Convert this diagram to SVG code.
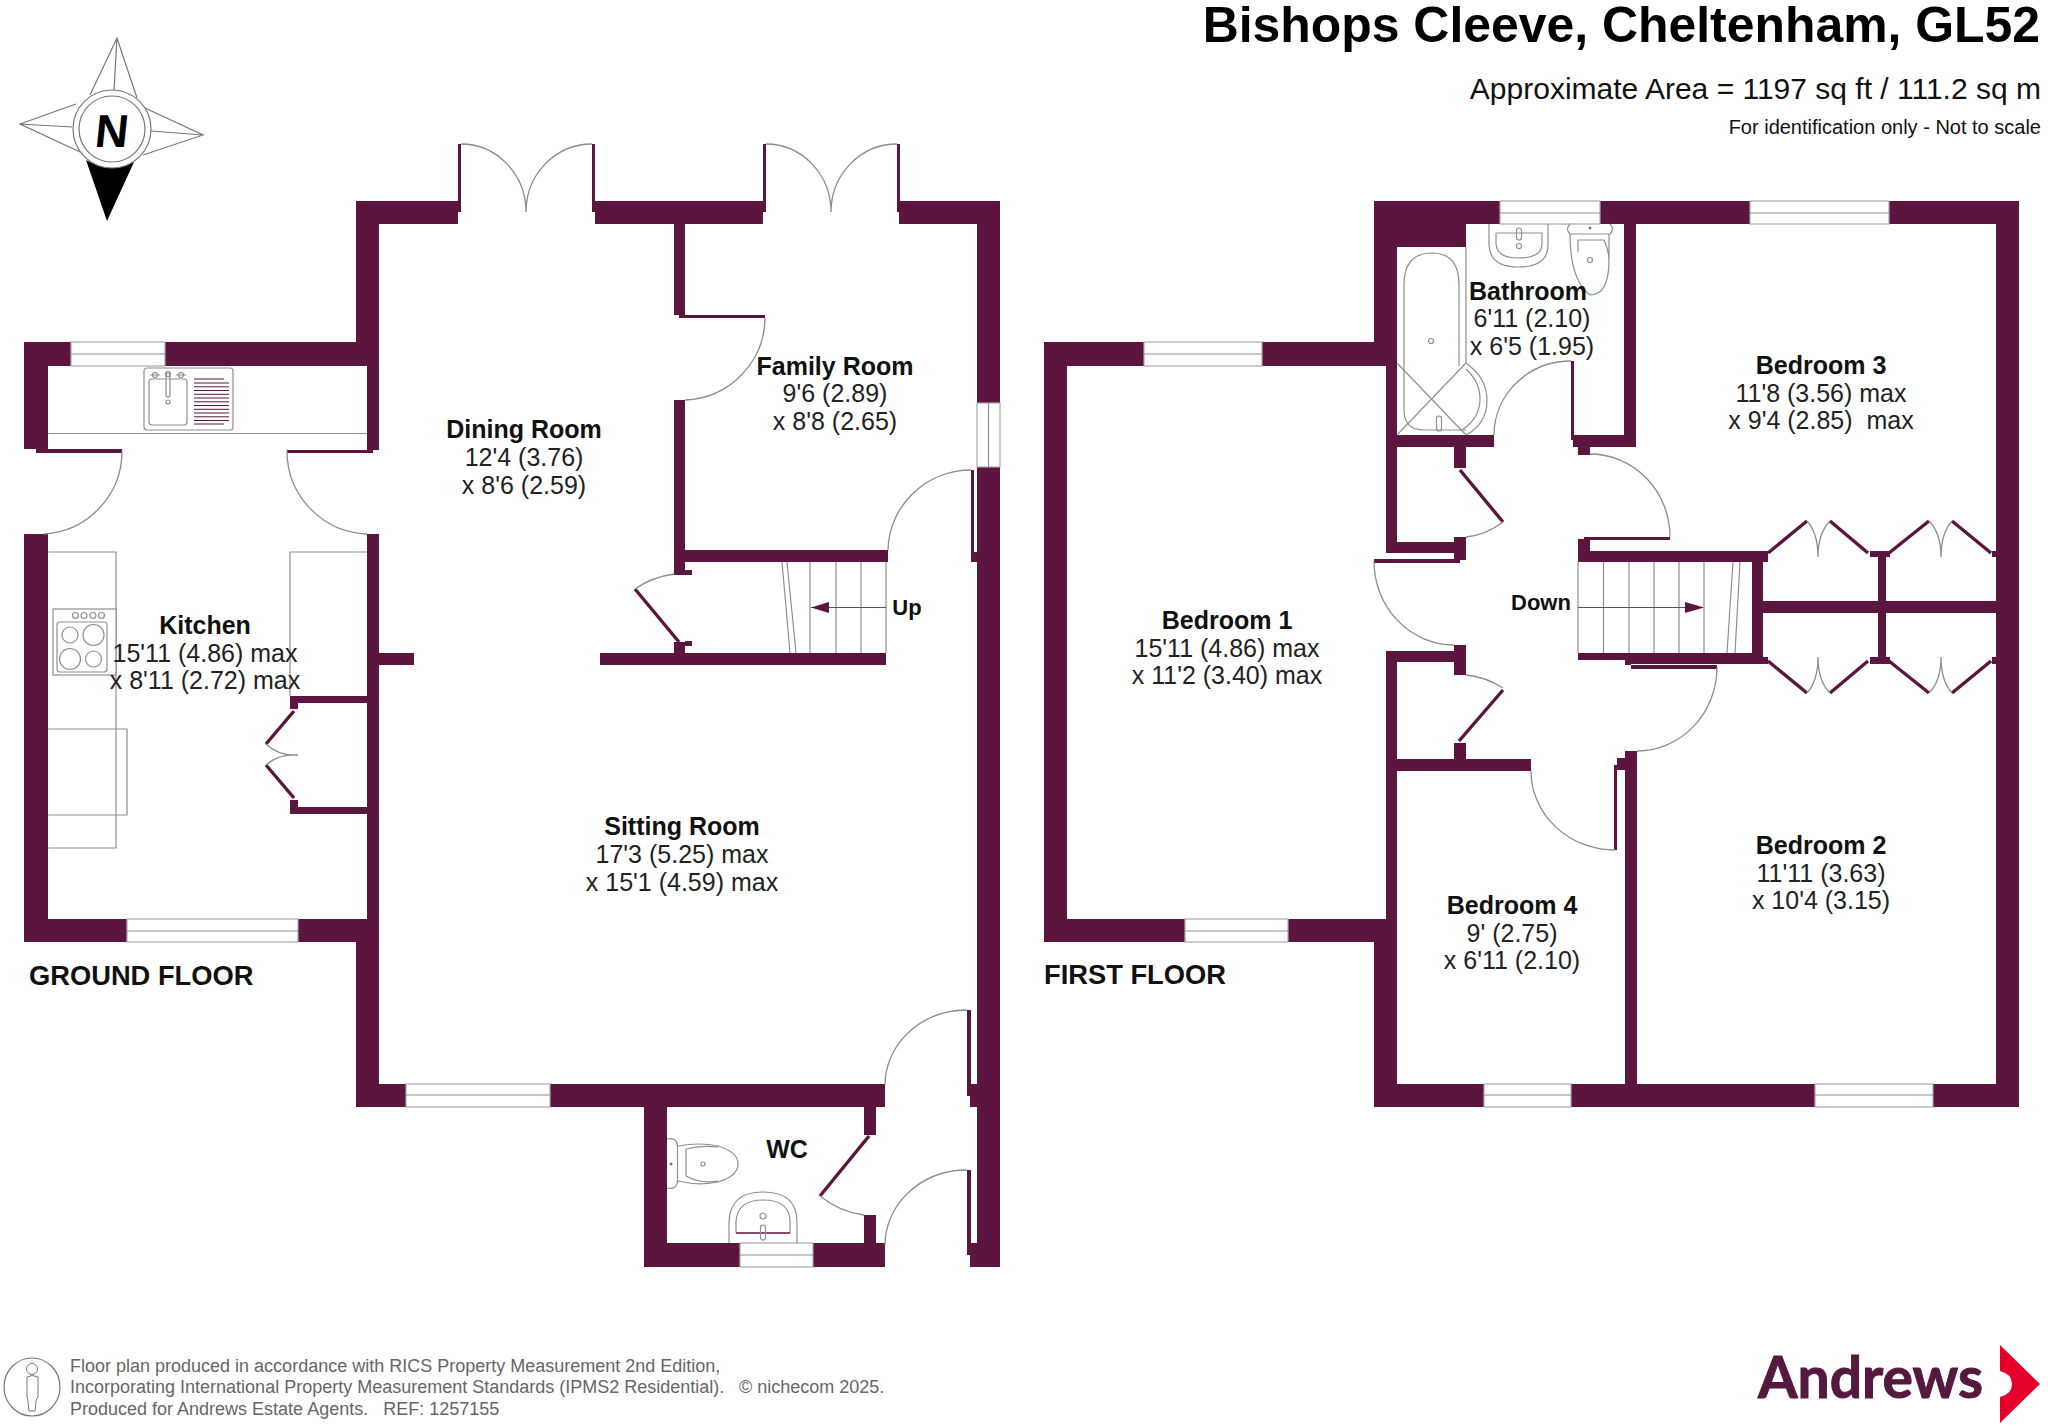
<svg xmlns="http://www.w3.org/2000/svg" width="2048" height="1426" viewBox="0 0 2048 1426">
<style>
text{font-family:"Liberation Sans",Arial,sans-serif;fill:#111;text-anchor:middle}
.n{font-weight:700;font-size:25px}
.d{font-size:25px;fill:#222}
.lab{font-weight:700;font-size:22px}
.fl{font-weight:700;font-size:27.3px;text-anchor:start}
.f{font-size:18px;fill:#666;text-anchor:start}
.walls{fill:#5b153f}
.arc{fill:none;stroke:#8c8c8c;stroke-width:1.3}
.leaf{fill:none;stroke:#5b153f;stroke-width:3.4}
.g{fill:none;stroke:#8f8f8f;stroke-width:1.2}
.win{fill:#fff;stroke:#a9a9a9;stroke-width:1.2}
.ar{fill:#5b153f;stroke:none}
</style>
<rect width="2048" height="1426" fill="#fff"/>

<g id="title">
<text x="2040" y="42" font-size="49.900" font-weight="700" style="text-anchor:end;fill:#000">Bishops Cleeve, Cheltenham, GL52</text>
<text x="2041" y="99" font-size="30" style="text-anchor:end">Approximate Area = 1197 sq ft / 111.2 sq m</text>
<text x="2041" y="134" font-size="20" style="text-anchor:end">For identification only - Not to scale</text>
</g>

<g id="compass">
<path class="g" style="stroke:#777" d="M90 95L117 38L137 98M114 90L117 38M76 104L20 124L80 152M72 127L20 124M145 108L203 135L143 155M151 131L203 135"/>
<path d="M86 160Q110 174 134 162L107 221Z" fill="#000"/>
<circle cx="112" cy="129" r="39" fill="#fff" stroke="#777" stroke-width="1.2"/>
<circle cx="112" cy="129" r="33" fill="#fff" stroke="#777" stroke-width="1.2"/>
<text x="125.700" y="147" font-size="46" font-weight="700" transform="skewX(-6)" style="fill:#000">N</text>
</g>

<g id="ground-floor-walls" class="walls">
<rect x="24" y="342" width="24" height="107"/><rect x="24" y="342" width="47" height="24"/><rect x="165" y="342" width="214" height="24"/>
<rect x="36" y="449" width="86" height="4"/><rect x="287" y="450" width="86" height="3"/><rect x="367" y="342" width="12" height="108"/>
<rect x="356" y="201" width="23" height="165"/><rect x="356" y="201" width="102" height="23"/><rect x="458" y="144" width="3" height="68"/>
<rect x="24" y="534" width="24" height="408"/><rect x="24" y="919" width="103" height="23"/><rect x="298" y="919" width="81" height="23"/>
<rect x="367" y="534" width="12" height="385"/><rect x="356" y="919" width="23" height="188"/><rect x="379" y="653" width="35" height="12"/>
<rect x="290" y="696" width="77" height="7"/><rect x="290" y="696" width="8" height="13"/><rect x="290" y="807" width="77" height="7"/><rect x="290" y="800" width="8" height="14"/>
<rect x="592" y="144" width="3" height="68"/><rect x="592" y="201" width="174" height="11"/><rect x="595" y="201" width="168" height="23"/><rect x="763" y="144" width="3" height="68"/>
<rect x="897" y="144" width="3" height="68"/><rect x="897" y="201" width="103" height="11"/><rect x="899" y="201" width="101" height="23"/>
<rect x="977" y="201" width="23" height="202"/><rect x="977" y="467" width="23" height="800"/>
<rect x="674" y="224" width="11" height="91"/><rect x="679" y="315" width="86" height="3"/><rect x="674" y="400" width="11" height="175"/><rect x="674" y="550" width="214" height="12"/><rect x="685" y="570" width="7" height="5"/>
<rect x="600" y="653" width="286" height="12"/><rect x="674" y="642" width="11" height="11"/><rect x="685" y="641" width="7" height="5"/>
<rect x="971" y="470" width="3" height="86"/><rect x="971" y="552" width="6" height="10"/>
<rect x="356" y="1084" width="50" height="23"/><rect x="550" y="1084" width="335" height="23"/>
<rect x="644" y="1107" width="23" height="160"/><rect x="644" y="1243" width="96" height="24"/><rect x="813" y="1243" width="72" height="24"/><rect x="864" y="1107" width="12" height="28"/><rect x="864" y="1215" width="12" height="28"/>
<rect x="967" y="1010" width="4" height="85"/><rect x="967" y="1084" width="10" height="12"/><rect x="970" y="1096" width="7" height="11"/>
<rect x="967" y="1170" width="4" height="85"/><rect x="967" y="1243" width="10" height="12"/><rect x="970" y="1255" width="7" height="12"/>
</g>

<g id="ground-floor-windows">
<rect class="win" x="71" y="342" width="94" height="24"/><path class="g" d="M71 354H165"/>
<rect class="win" x="127" y="919" width="171" height="23"/><path class="g" d="M127 931H298"/>
<rect class="win" x="406" y="1084" width="144" height="23"/><path class="g" d="M406 1095H550"/>
<rect class="win" x="977" y="403" width="23" height="64"/><path class="g" d="M988.500 403V467"/>
<rect class="win" x="740" y="1243" width="73" height="24"/><path class="g" d="M740 1255H813"/>
</g>

<g id="ground-floor-doors">
<path class="arc" d="M122 451A83 83 0 0 1 44 534M287 451A83 83 0 0 0 367 534"/>
<path class="arc" d="M461 144A65 68 0 0 1 526 212M592 144A66 68 0 0 0 526 212M766 144A65 68 0 0 1 831 212M897 144A66 68 0 0 0 831 212"/>
<path class="arc" d="M765 318A83 83 0 0 1 685 400M971 470A83 82 0 0 0 888 550"/>
<path class="leaf" d="M294 711L266 744M266 765L294 798M635 589L679 642"/>
<path class="arc" d="M266 744Q278 756 298 755M266 765Q278 754 298 755M635 589Q652 577 674 574"/>
<path class="arc" d="M967 1010A82 75 0 0 0 885 1085M967 1170A82 75 0 0 0 885 1245"/>
<path class="leaf" d="M869 1136L820 1196"/>
<path class="arc" d="M820 1196Q840 1212 864 1215"/>
</g>

<g id="ground-floor-stairs">
<path class="g" d="M810 562V653M836 562V653M861 562V653M886 562V653M782 562L790 653M787 562L796 653"/>
<path class="g" style="stroke:#555" d="M811 607.500H886"/><path class="ar" d="M811 607.500L829 602V613Z"/>
<text class="lab" x="907" y="615">Up</text>
</g>

<g id="kitchen-fittings">
<path class="g" d="M48 433.500H367M48 552H116V848H48M367 552H290V696M48 729H127V815H48"/>
<rect class="g" x="144" y="368" width="89" height="62" rx="3" fill="#fff"/>
<rect class="g" x="149" y="379" width="38" height="46" rx="3"/>
<rect class="g" x="166" y="373" width="4" height="24" rx="2"/><circle class="g" cx="168" cy="402" r="2"/>
<path class="g" d="M150 375H160M176 375H186"/><circle class="g" cx="155" cy="375" r="2.500"/><circle class="g" cx="181" cy="375" r="2.500"/><circle class="g" cx="168" cy="374" r="2.500"/>
<path d="M194 379H224M194 383H229M194 386.800H229M194 390.500H229M194 394.300H229M194 398H229M194 401.800H229M194 405.500H229M194 409.300H229M194 413H229M194 416.800H229M194 420.500H229M194 424H224" fill="none" stroke="#5b153f" stroke-width="1"/>
<rect x="53" y="609" width="63" height="66" fill="#fff" stroke="#8f8f8f" stroke-width="1.2"/>
<rect class="g" x="57" y="622" width="50" height="50" rx="3"/>
<circle class="g" cx="75.500" cy="615.500" r="3"/><circle class="g" cx="84" cy="615.500" r="3"/><circle class="g" cx="93" cy="615.500" r="3"/><circle class="g" cx="101.500" cy="615.500" r="3"/>
<circle class="g" cx="70" cy="635" r="8"/><circle class="g" cx="93.500" cy="635" r="10.500"/><circle class="g" cx="70" cy="659" r="10.500"/><circle class="g" cx="93.500" cy="659" r="8"/>
</g>

<g id="wc-fittings">
<path class="g" d="M667 1139Q677 1137 677.500 1146V1181Q677 1190 667 1188M678 1146Q700 1142 718 1146Q738 1152 738 1164Q738 1176 718 1182Q700 1186 678 1181M686 1149Q700 1145 718 1147M686 1149V1176Q700 1184 718 1181"/>
<circle class="g" cx="703" cy="1164" r="2"/><circle cx="671" cy="1164" r="1.500" fill="#777"/>
<path class="g" d="M729 1243V1222Q730 1192 763 1192Q797 1192 797 1222V1243M736 1233V1222Q737 1200 763 1200Q790 1200 790 1222V1233"/>
<path d="M736 1233H790" stroke="#5b153f" stroke-width="1.500"/>
<circle class="g" cx="763" cy="1216" r="3"/><rect class="g" x="760.500" y="1225" width="5" height="15" rx="2.500"/>
</g>

<g id="first-floor-walls" class="walls">
<rect x="1044" y="342" width="23" height="600"/><rect x="1044" y="342" width="100" height="24"/><rect x="1262" y="342" width="135" height="24"/>
<rect x="1044" y="919" width="141" height="23"/><rect x="1288" y="919" width="109" height="23"/>
<rect x="1374" y="201" width="126" height="23"/><rect x="1374" y="224" width="92" height="23"/><rect x="1374" y="247" width="23" height="119"/>
<rect x="1386" y="366" width="11" height="187"/><rect x="1386" y="542" width="80" height="11"/><rect x="1454" y="537" width="12" height="23"/><rect x="1374" y="559" width="86" height="4"/>
<rect x="1386" y="435" width="108" height="12"/><rect x="1454" y="447" width="12" height="21"/>
<rect x="1454" y="645" width="12" height="30"/><rect x="1386" y="651" width="68" height="11"/><rect x="1386" y="651" width="11" height="268"/><rect x="1397" y="759" width="134" height="12"/><rect x="1454" y="743" width="12" height="16"/>
<rect x="1374" y="942" width="23" height="165"/><rect x="1374" y="1084" width="110" height="23"/><rect x="1571" y="1084" width="244" height="23"/><rect x="1933" y="1084" width="86" height="23"/>
<rect x="1600" y="201" width="150" height="23"/><rect x="1889" y="201" width="130" height="23"/><rect x="1996" y="201" width="23" height="906"/>
<rect x="1624" y="224" width="12" height="223"/><rect x="1573" y="435" width="63" height="12"/><rect x="1571" y="361" width="3" height="79"/><rect x="1578" y="447" width="12" height="8"/>
<rect x="1578" y="551" width="190" height="11"/><rect x="1578" y="539" width="12" height="12"/><rect x="1584" y="537" width="86" height="3"/><rect x="1752" y="551" width="11" height="113"/>
<rect x="1578" y="653" width="47" height="7"/><rect x="1625" y="653" width="138" height="11"/><rect x="1625" y="660" width="6" height="5"/><rect x="1631" y="665" width="86" height="4"/>
<rect x="1763" y="601" width="233" height="12"/><rect x="1878" y="554" width="8" height="110"/><rect x="1870" y="551" width="20" height="6"/><rect x="1870" y="657" width="20" height="7"/>
<rect x="1763" y="551" width="5" height="6"/><rect x="1763" y="657" width="5" height="7"/><rect x="1992" y="551" width="4" height="6"/><rect x="1992" y="657" width="4" height="7"/>
<rect x="1625" y="751" width="12" height="333"/><rect x="1617" y="758" width="8" height="12"/><rect x="1614" y="765" width="3" height="85"/>
</g>

<g id="first-floor-windows">
<rect class="win" x="1144" y="342" width="118" height="24"/><path class="g" d="M1144 354H1262"/>
<rect class="win" x="1185" y="919" width="103" height="23"/><path class="g" d="M1185 931H1288"/>
<rect class="win" x="1500" y="201" width="100" height="23"/><path class="g" d="M1500 213H1600"/>
<rect class="win" x="1750" y="201" width="139" height="23"/><path class="g" d="M1750 213H1889"/>
<rect class="win" x="1484" y="1084" width="87" height="23"/><path class="g" d="M1484 1095H1571"/>
<rect class="win" x="1815" y="1084" width="118" height="23"/><path class="g" d="M1815 1095H1933"/>
</g>

<g id="first-floor-doors">
<path class="arc" d="M1571 361A77 74 0 0 0 1494 435M1590 454A80 83 0 0 1 1670 537M1374 561A80 84 0 0 0 1454 645M1531 771A84 79 0 0 0 1615 850M1637 751A80 84 0 0 0 1717 667"/>
<path class="leaf" d="M1460 470L1503 522M1459 741L1503 690"/>
<path class="arc" d="M1503 522Q1486 535 1466 537M1503 688Q1486 677 1466 675"/>
<path class="leaf" d="M1768 553L1807 521M1830 521L1868 553M1889 553L1929 521M1952 521L1991 553M1768 661L1807 693M1830 693L1868 661M1889 661L1929 693M1952 693L1991 661"/>
<path class="arc" d="M1807 521Q1818 533 1818 557M1830 521Q1818 533 1818 557M1929 521Q1941 533 1941 557M1952 521Q1941 533 1941 557M1807 693Q1818 681 1818 657M1830 693Q1818 681 1818 657M1929 693Q1941 681 1941 657M1952 693Q1941 681 1941 657"/>
</g>

<g id="first-floor-stairs">
<path class="g" d="M1578 562V653M1603.500 562V653M1629 562V653M1654 562V653M1679 562V653M1704 562V653M1733 562L1727 653M1740 562L1735 653"/>
<path class="g" style="stroke:#555" d="M1578 607.500H1703"/><path class="ar" d="M1704 607.500L1685 602V613Z"/>
<text class="lab" x="1541" y="610">Down</text>
</g>

<g id="bathroom-fittings">
<path class="g" d="M1466 247V363M1404 285Q1404 253 1432 253Q1459 253 1459 285V366M1404 285V410Q1404 430 1424 430H1466"/>
<path class="g" d="M1397 363L1466 435M1466 363L1397 435M1466 363Q1487 378 1487 400Q1487 424 1466 435M1466 369Q1480 382 1480 399Q1480 418 1462 430"/>
<circle class="g" cx="1431" cy="341" r="2.500"/><rect class="g" x="1436.500" y="416" width="5" height="15" rx="2.500"/>
<path class="g" d="M1489 224V245Q1490 267 1518 267Q1548 267 1548 245V224M1496 233V244Q1497 258 1518 258Q1542 258 1542 244V233H1496"/>
<circle class="g" cx="1519" cy="246" r="2.500"/><rect class="g" x="1516.500" y="228" width="5" height="12" rx="2.500"/>
<path class="g" d="M1570 224Q1565 229 1570 234H1610Q1615 229 1610 224M1570 234Q1570 280 1590 295Q1609 295 1609 260V234M1578 252V240H1604Q1609 250 1609 262"/>
<circle class="g" cx="1590" cy="260" r="2.500"/><circle cx="1590" cy="228" r="1.500" fill="#777"/>
</g>

<g id="room-kitchen"><text class="n" x="205" y="634">Kitchen</text><text class="d" x="205" y="662">15'11 (4.86) max</text><text class="d" x="205" y="689">x 8'11 (2.72) max</text></g>
<g id="room-dining"><text class="n" x="524" y="438">Dining Room</text><text class="d" x="524" y="466">12'4 (3.76)</text><text class="d" x="524" y="494">x 8'6 (2.59)</text></g>
<g id="room-family"><text class="n" x="835" y="375">Family Room</text><text class="d" x="835" y="402">9'6 (2.89)</text><text class="d" x="835" y="430">x 8'8 (2.65)</text></g>
<g id="room-sitting"><text class="n" x="682" y="835">Sitting Room</text><text class="d" x="682" y="863">17'3 (5.25) max</text><text class="d" x="682" y="891">x 15'1 (4.59) max</text></g>
<g id="room-wc"><text class="n" x="787" y="1158">WC</text></g>
<g id="room-bedroom1"><text class="n" x="1227" y="629">Bedroom 1</text><text class="d" x="1227" y="657">15'11 (4.86) max</text><text class="d" x="1227" y="684">x 11'2 (3.40) max</text></g>
<g id="room-bedroom2"><text class="n" x="1821" y="854">Bedroom 2</text><text class="d" x="1821" y="882">11'11 (3.63)</text><text class="d" x="1821" y="909">x 10'4 (3.15)</text></g>
<g id="room-bedroom3"><text class="n" x="1821" y="374">Bedroom 3</text><text class="d" x="1821" y="402">11'8 (3.56) max</text><text class="d" x="1821" y="429">x 9'4 (2.85)&#160; max</text></g>
<g id="room-bedroom4"><text class="n" x="1512" y="914">Bedroom 4</text><text class="d" x="1512" y="942">9' (2.75)</text><text class="d" x="1512" y="969">x 6'11 (2.10)</text></g>
<g id="room-bathroom"><text class="n" x="1528" y="300">Bathroom</text><text class="d" x="1532" y="327">6'11 (2.10)</text><text class="d" x="1532" y="355">x 6'5 (1.95)</text></g>

<text class="fl" x="29" y="985">GROUND FLOOR</text>
<text class="fl" x="1044" y="984">FIRST FLOOR</text>

<g id="footer">
<ellipse cx="32" cy="1387" rx="28" ry="29" fill="none" stroke="#777" stroke-width="1.2"/>
<circle cx="32" cy="1369" r="5.500" fill="none" stroke="#777"/>
<path d="M27 1377Q32 1374 38 1377V1397Q36 1399 36 1402L35 1411H29L28 1402Q28 1399 27 1397Z" fill="none" stroke="#777"/>
<text class="f" x="70" y="1372">Floor plan produced in accordance with RICS Property Measurement 2nd Edition,</text>
<text class="f" x="70" y="1393">Incorporating International Property Measurement Standards (IPMS2 Residential).</text>
<text class="f" x="739" y="1393">© nichecom 2025.</text>
<text class="f" x="70" y="1415">Produced for Andrews Estate Agents.&#160;&#160; REF: 1257155</text>
</g>

<g id="logo">
<text x="1758" y="1398" font-size="57" font-weight="700" stroke="#55183f" stroke-width="1" style="font-family:Lato,'Liberation Sans',sans-serif;text-anchor:start;fill:#55183f">Andrews</text>
<path d="M2000 1345L2040 1384L2000 1423V1397Q2012 1394 2012 1384Q2012 1374 2000 1371Z" fill="#e4002b"/>
</g>
</svg>
